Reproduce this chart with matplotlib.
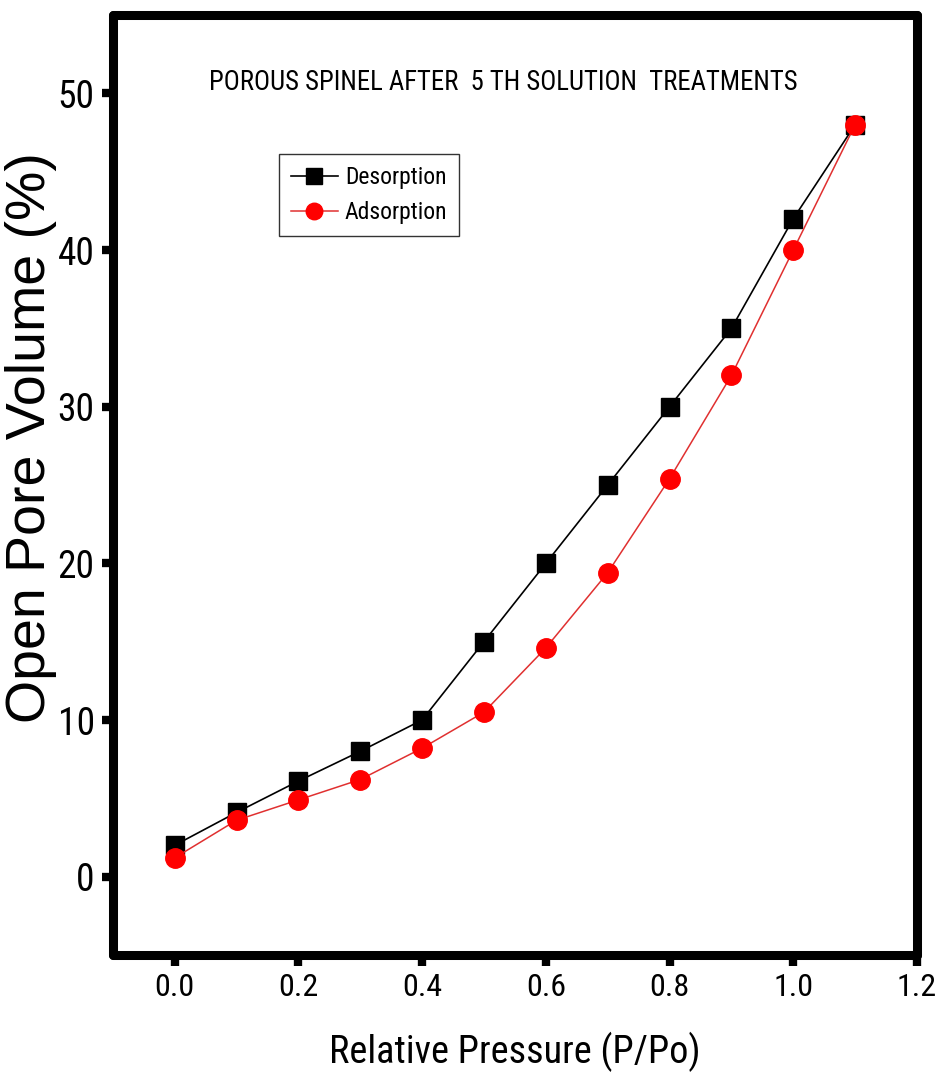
import matplotlib
matplotlib.use("Agg")
import matplotlib.pyplot as plt

# data
pressure = [0.0, 0.1, 0.2, 0.3, 0.4, 0.5, 0.6, 0.7, 0.8, 0.9, 1.0, 1.1]
desorption = [2.0, 4.1, 6.1, 8.0, 10.0, 15.0, 20.0, 25.0, 30.0, 35.0, 42.0, 48.0]
adsorption = [1.2, 3.6, 4.9, 6.2, 8.2, 10.5, 14.6, 19.4, 25.4, 32.0, 40.0, 48.0]

x_ticks = [0.0, 0.2, 0.4, 0.6, 0.8, 1.0, 1.2]
y_ticks = [0, 10, 20, 30, 40, 50]

title = "POROUS SPINEL AFTER  5 TH SOLUTION  TREATMENTS"

narrow = ["Roboto Condensed", "Liberation Sans", "DejaVu Sans"]
wide = ["Liberation Sans", "DejaVu Sans"]

fig = plt.figure(figsize=(9.4, 10.81), dpi=100)
ax = fig.add_axes([0.120, 0.1166, 0.8555, 0.8694])

ax.plot(pressure, desorption, color="black", lw=1.2, marker="s", ms=13,
        label="Desorption")
ax.plot(pressure, adsorption, color="#e03030", lw=1.1, marker="o", ms=14,
        mfc="red", mec="red", label="Adsorption")

ax.set_xlim(-0.1, 1.2)
ax.set_ylim(-5, 55)
ax.set_xticks(x_ticks)
ax.set_xticklabels([f"{v:.1f}" for v in x_ticks], family=narrow, fontsize=23)
ax.set_yticks(y_ticks)
ax.set_yticklabels([str(v) for v in y_ticks], family=narrow, fontsize=27)
ax.tick_params(direction="out", length=8, width=6, pad=5,
               top=False, right=False)

for sp in ax.spines.values():
    sp.set_linewidth(6.5)
    sp.set_capstyle("round")

ax.set_xlabel("Relative Pressure (P/Po)", family=narrow, fontsize=27.5)
ax.xaxis.set_label_coords(0.5, -0.082)
ax.set_ylabel("Open Pore Volume (%)", family=wide, fontsize=40)
ax.yaxis.set_label_coords(-0.07, 0.551)

ax.text(0.531, 50.7, title, family=narrow, fontsize=19.3,
        ha="center", va="center")

leg = ax.legend(loc="upper left", bbox_to_anchor=(0.2065, 0.852),
                borderaxespad=0, prop={"family": narrow, "size": 17},
                handlelength=2.0, handletextpad=0.3, borderpad=0.5,
                labelspacing=0.5, markerscale=0.85, fancybox=False,
                framealpha=1)
leg.get_frame().set_edgecolor("#333333")
leg.get_frame().set_linewidth(1.0)

fig.savefig("out.png", dpi=100, facecolor="white")
